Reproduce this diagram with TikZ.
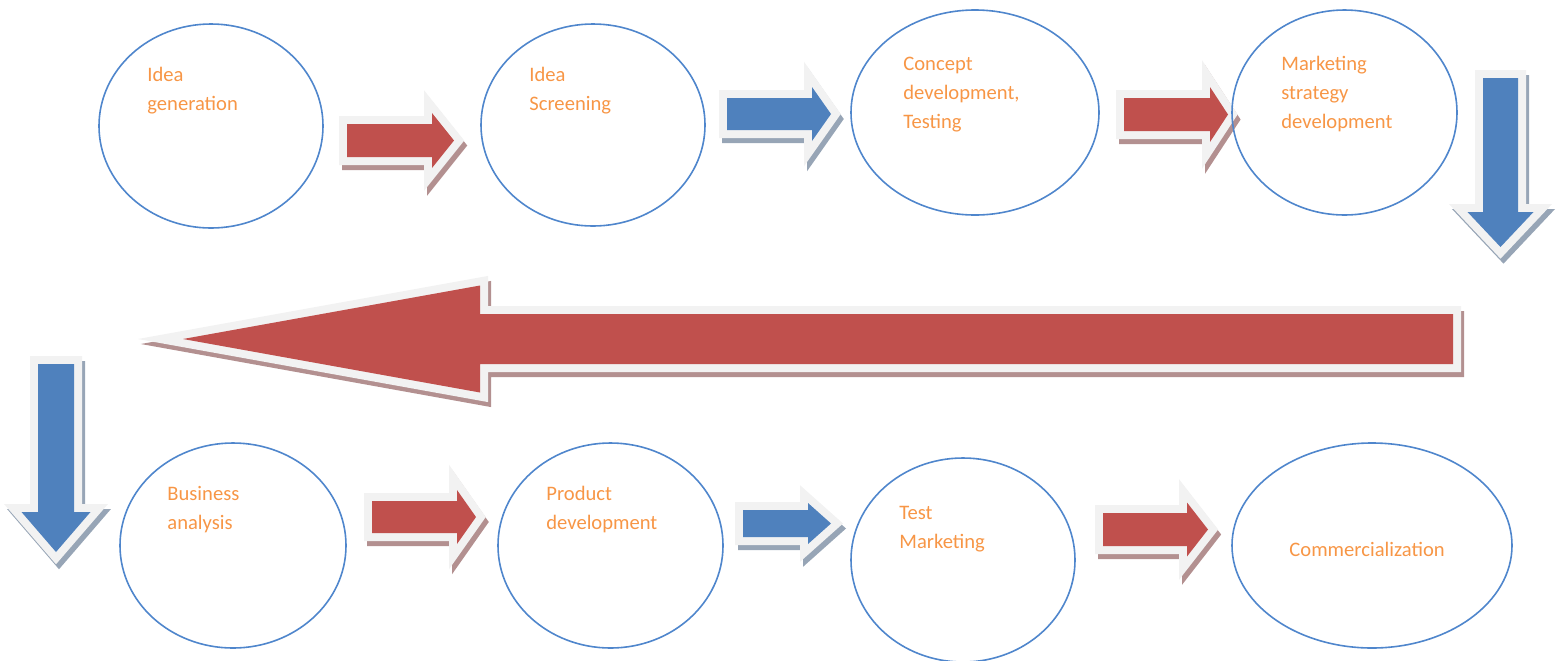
\documentclass[tikz,border=0pt]{standalone}
\usepackage{fontspec}
\setmainfont{Carlito}
\usetikzlibrary{shapes.geometric}

\definecolor{arrowred}{HTML}{C0504D}
\definecolor{arrowblue}{HTML}{4F81BD}
\definecolor{redshade}{HTML}{B39090}
\definecolor{blueshade}{HTML}{97A5B6}
\definecolor{rim}{HTML}{F2F2F2}
\definecolor{ringblue}{HTML}{4F86CC}
\definecolor{textorange}{HTML}{F79646}

\begin{document}
\begin{tikzpicture}[x=0.5pt,y=-0.5pt,
  stage/.style={ellipse, draw=ringblue, line width=0.8pt, inner sep=0pt},
  caption/.style={anchor=base west, align=left, inner sep=0pt, text=textorange, font=\fontsize{10.3}{14.5}\selectfont},
  blockarrow/.style 2 args={fill=#1,
    preaction={draw=#2, fill=#2, line width=8pt, transform canvas={xshift=1.5pt, yshift=-2.5pt}},
    preaction={draw=rim, line width=8pt}},
  redarrow/.style={blockarrow={arrowred}{redshade}},
  bluearrow/.style={blockarrow={arrowblue}{blueshade}}]
  \useasboundingbox (0,0) rectangle (1564,660);

  % arrows pointing right: tail, head base, tip, middle, half shaft, half head
  \foreach \sty/\xt/\xb/\xp/\yc/\s/\h in {
      redarrow/347/432/454/140.5/16.5/27.5, bluearrow/727/812/831/114/16/27,
      redarrow/1124/1210/1228/114.5/16.5/27.5, redarrow/372/457/476/517/16/27,
      bluearrow/743/808/831/523.5/13.5/20.5, redarrow/1103/1187/1208/529.5/16.5/27}
    \path[\sty] (\xt,\yc-\s) -- (\xb,\yc-\s) -- (\xb,\yc-\h) -- (\xp,\yc)
      -- (\xb,\yc+\h) -- (\xb,\yc+\s) -- (\xt,\yc+\s) -- cycle;

  % arrows pointing down
  \foreach \xc/\yt/\yb/\yp/\s/\h in {1500.5/78/212/247/17.5/33, 56/364/512/552/18/34.5}
    \path[bluearrow] (\xc-\s,\yt) -- (\xc+\s,\yt) -- (\xc+\s,\yb) -- (\xc+\h,\yb)
      -- (\xc,\yp) -- (\xc-\h,\yb) -- (\xc-\s,\yb) -- cycle;

  % long return arrow
  \path[redarrow] (1453,314) -- (480,314) -- (480,285.5) -- (183,339)
    -- (480,392.5) -- (480,364) -- (1453,364) -- cycle;

  % stages
  \foreach \n/\x/\y/\rx/\ry in {idea/211/126/112/102, screen/593/125/112/101,
      concept/975/112.5/124/102.5, strategy/1344.5/112.5/112.5/102.5,
      business/233/545.5/113/102.5, product/610.5/545.5/112.5/102.5,
      testmkt/963/560/112/102, launch/1372/545.5/140/102.5}
    \node[stage, minimum width=\rx pt, minimum height=\ry pt] (\n) at (\x,\y) {};

  % captions sit on the baseline of their last line
  \node[caption] (idea-t) at (147,110) {Idea\\generation};
  \node[caption] (screen-t) at (529,110) {Idea\\Screening};
  \node[caption] (concept-t) at (903,128) {Concept\\development,\\Testing};
  \node[caption] (strategy-t) at (1281,128) {Marketing\\strategy\\development};
  \node[caption] (business-t) at (167,529) {Business\\analysis};
  \node[caption] (product-t) at (546,529) {Product\\development};
  \node[caption] (testmkt-t) at (899,548) {Test\\Marketing};
  \node[caption] (launch-t) at (1289,556) {Commercialization};
\end{tikzpicture}
\end{document}
